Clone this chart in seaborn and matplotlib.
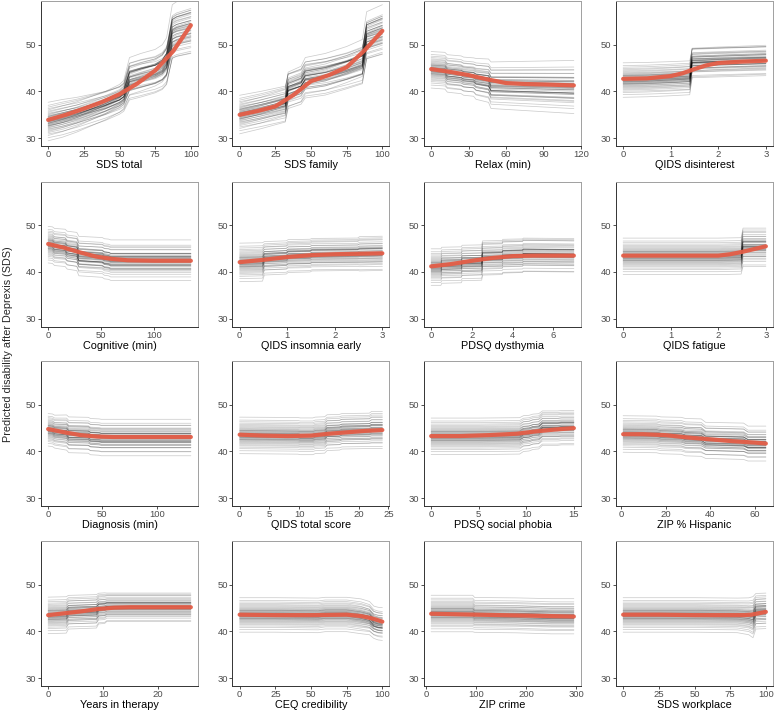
import numpy as np
import pandas as pd
import matplotlib
matplotlib.use("Agg")
import matplotlib.pyplot as plt
import seaborn as sns

# per-person shift (in panel spread units) and how strongly each person follows the profile
offsets = [-2.15, -1.8, -1.55, -1.38, -1.22, -1.1, -0.98, -0.88, -0.79, -0.7, -0.62, -0.55,
           -0.48, -0.41, -0.35, -0.29, -0.23, -0.17, -0.12, -0.07, -0.02, 0.03, 0.08, 0.13,
           0.18, 0.24, 0.3, 0.36, 0.42, 0.48, 0.55, 0.62, 0.7, 0.78, 0.87, 0.97, 1.08, 1.2,
           1.33, 1.48, 1.65, 1.85, 2.2, -0.45, 0.05, -0.2, 0.25, 0.6]
gains = [1.1, 0.9, 1.2, 0.85, 1.0, 1.15, 0.95, 1.05, 0.8, 1.1, 0.9, 1.25, 1.0, 0.85, 1.15, 0.95,
         1.05, 1.2, 0.9, 1.0, 1.1, 0.8, 1.05, 0.95, 1.15, 0.9, 1.0, 1.2, 0.85, 1.1, 0.95, 1.05,
         0.9, 1.15, 1.0, 0.8, 1.1, 0.95, 1.25, 0.9, 1.05, 1.0, 0.85, 1.1, 0.95, 1.2, 0.9, 1.05]

# SDS total
sds_total_x = [0, 10, 20, 30, 40, 50, 53, 57, 65, 75, 80, 83, 87, 90, 100]
sds_total_ice = [33.5, 34.2, 35.0, 36.0, 37.0, 38.3, 39.0, 42.5, 43.2, 44.0, 44.8, 46.0, 52.0, 52.5, 53.3]
sds_total_sd = [1.9, 1.9, 1.8, 1.7, 1.6, 1.5, 1.5, 1.9, 1.9, 1.8, 1.8, 1.8, 1.5, 1.5, 1.5]
sds_total_rx = [0, 12.5, 25, 37.5, 50, 62.5, 75, 87.5, 100]
sds_total_ry = [33.9, 35.0, 36.3, 37.7, 39.4, 41.7, 44.5, 48.6, 54.2]

# SDS family
sds_family_x = [0, 15, 32, 34, 43, 46, 60, 75, 86, 89, 100]
sds_family_ice = [35.0, 36.0, 37.3, 40.3, 41.3, 42.8, 43.5, 44.8, 46.0, 51.3, 52.5]
sds_family_sd = [1.9, 1.9, 1.9, 1.9, 1.9, 1.9, 1.9, 1.8, 1.8, 1.3, 1.3]
sds_family_rx = [0, 12.5, 25, 37.5, 50, 62.5, 75, 87.5, 100]
sds_family_ry = [35.0, 35.8, 36.8, 39.2, 42.2, 43.5, 45.2, 48.8, 53.0]

# Relax (min)
relax_x = [0, 11, 13, 24, 26, 34, 36, 46, 48, 114.4]
relax_ice = [44.6, 44.4, 43.8, 43.5, 43.2, 43.0, 42.6, 42.2, 41.2, 40.8]
relax_sd = [1.8, 1.8, 1.8, 1.8, 1.8, 1.8, 1.9, 2.0, 2.1, 2.4]
relax_rx = [0, 15, 30, 45, 60, 75, 90, 114.4]
relax_ry = [44.8, 44.2, 43.5, 42.6, 41.8, 41.6, 41.5, 41.3]

# QIDS disinterest
disint_x = [0, 0.5, 1.0, 1.4, 1.45, 2.0, 3.0]
disint_ice = [42.4, 42.5, 42.7, 42.9, 46.2, 46.4, 46.7]
disint_sd = [1.7, 1.7, 1.7, 1.7, 1.6, 1.6, 1.6]
disint_rx = [0, 0.5, 1.0, 1.25, 1.5, 1.75, 2.0, 2.5, 3.0]
disint_ry = [42.7, 42.8, 43.3, 43.9, 44.8, 45.6, 46.1, 46.4, 46.6]

# Cognitive (min)
cogn_x = [0, 4, 6, 16, 18, 27, 29, 51, 53, 57, 59, 134.5]
cogn_ice = [45.8, 45.7, 45.3, 45.1, 44.6, 44.3, 43.3, 43.0, 42.7, 42.6, 42.4, 42.4]
cogn_sd = [1.8, 1.8, 1.8, 1.8, 1.8, 1.8, 1.8, 1.8, 1.8, 1.8, 1.8, 1.8]
cogn_rx = [0, 15, 30, 45, 60, 75, 100, 134.5]
cogn_ry = [46.0, 45.2, 44.2, 43.3, 42.8, 42.5, 42.4, 42.4]

# QIDS insomnia early
insom_x = [0, 0.48, 0.52, 0.98, 1.02, 1.48, 1.52, 2.48, 2.52, 3]
insom_ice = [42.0, 42.1, 42.9, 43.1, 43.4, 43.5, 43.7, 43.8, 43.9, 44.0]
insom_sd = [1.9, 1.9, 1.7, 1.7, 1.7, 1.7, 1.7, 1.7, 1.8, 1.8]
insom_rx = [0, 0.5, 1.0, 1.5, 2.0, 2.5, 3.0]
insom_ry = [42.1, 42.6, 43.2, 43.6, 43.8, 43.9, 44.0]

# PDSQ dysthymia
dysth_x = [0, 0.48, 0.52, 1.48, 1.52, 2.48, 2.52, 3.48, 3.52, 4.48, 4.52, 7]
dysth_ice = [41.0, 41.0, 41.4, 41.5, 41.9, 42.0, 43.0, 43.1, 43.4, 43.5, 43.7, 43.6]
dysth_sd = [1.8, 1.8, 1.8, 1.8, 1.8, 1.8, 1.8, 1.8, 1.8, 1.8, 1.8, 1.8]
dysth_rx = [0, 1, 2, 3, 4, 5, 6, 7]
dysth_ry = [41.2, 41.7, 42.4, 43.0, 43.4, 43.5, 43.5, 43.5]

# QIDS fatigue
fatig_x = [0, 1, 2, 2.48, 2.52, 3]
fatig_ice = [43.3, 43.3, 43.3, 43.4, 45.3, 45.3]
fatig_sd = [1.8, 1.8, 1.8, 1.8, 2.0, 2.0]
fatig_rx = [0, 1, 2, 2.25, 2.5, 2.75, 3]
fatig_ry = [43.5, 43.5, 43.5, 43.8, 44.3, 44.9, 45.5]

# Diagnosis (min)
diag_x = [0, 4, 6, 17, 19, 37, 39, 47, 49, 131.5]
diag_ice = [44.6, 44.5, 44.2, 44.0, 43.5, 43.4, 43.1, 43.0, 42.9, 42.9]
diag_sd = [1.6, 1.6, 1.6, 1.7, 1.7, 1.7, 1.7, 1.7, 1.7, 1.7]
diag_rx = [0, 15, 30, 45, 60, 131.5]
diag_ry = [44.8, 44.1, 43.5, 43.2, 43.1, 43.1]

# QIDS total score
qtot_x = [0, 9.8, 10.2, 12.3, 12.7, 14.3, 14.7, 16.8, 17.2, 21.8, 22.2, 24]
qtot_ice = [43.4, 43.3, 43.2, 43.2, 43.4, 43.5, 44.0, 44.1, 44.3, 44.4, 44.6, 44.6]
qtot_sd = [1.8, 1.8, 1.8, 1.8, 1.8, 1.8, 1.8, 1.8, 1.8, 1.8, 1.9, 1.9]
qtot_rx = [0, 4, 8, 12, 15, 18, 21, 24]
qtot_ry = [43.6, 43.4, 43.3, 43.4, 43.8, 44.1, 44.4, 44.6]

# PDSQ social phobia
socph_x = [0, 5, 9.3, 9.7, 10.3, 10.7, 11.3, 11.7, 13.3, 13.7, 15]
socph_ice = [43.2, 43.2, 43.3, 43.8, 43.9, 44.2, 44.3, 45.0, 45.0, 45.1, 45.1]
socph_sd = [1.8, 1.8, 1.8, 1.8, 1.8, 1.8, 1.8, 1.8, 1.8, 1.8, 1.8]
socph_rx = [0, 3, 6, 9, 11, 13, 15]
socph_ry = [43.3, 43.3, 43.5, 43.8, 44.3, 44.7, 45.0]

# ZIP % Hispanic
hisp_x = [1, 16, 18, 27, 29, 36, 38, 55, 57, 65]
hisp_ice = [43.7, 43.6, 43.4, 43.3, 43.0, 42.9, 42.3, 42.1, 41.6, 41.6]
hisp_sd = [1.8, 1.8, 1.8, 1.8, 1.8, 1.8, 1.7, 1.7, 1.6, 1.6]
hisp_rx = [1, 10, 20, 30, 40, 50, 60, 65]
hisp_ry = [43.7, 43.7, 43.5, 43.0, 42.6, 42.2, 41.9, 41.7]

# Years in therapy
years_x = [0, 3.3, 3.7, 8.8, 9.2, 10.3, 10.7, 26]
years_ice = [43.4, 43.5, 44.1, 44.3, 44.9, 45.0, 45.2, 45.2]
years_sd = [1.8, 1.8, 1.7, 1.7, 1.6, 1.6, 1.5, 1.5]
years_rx = [0, 3, 6, 9, 12, 15, 20, 26]
years_ry = [43.5, 43.9, 44.3, 44.8, 45.1, 45.2, 45.2, 45.2]

# CEQ credibility
ceq_x = [0, 25, 55, 60, 75, 85, 91, 94, 97, 100]
ceq_ice = [43.5, 43.5, 43.4, 43.6, 43.6, 43.2, 42.8, 41.9, 41.6, 41.5]
ceq_sd = [1.7, 1.7, 1.7, 1.7, 1.7, 1.7, 1.6, 1.5, 1.5, 1.5]
ceq_rx = [0, 25, 50, 75, 85, 90, 95, 100]
ceq_ry = [43.6, 43.5, 43.5, 43.6, 43.3, 43.0, 42.6, 42.1]

# ZIP crime
crime_x = [10, 93, 97, 180, 250, 295]
crime_ice = [43.8, 43.8, 43.5, 43.4, 43.2, 43.2]
crime_sd = [1.8, 1.8, 1.7, 1.7, 1.7, 1.7]
crime_rx = [10, 100, 200, 295]
crime_ry = [43.8, 43.6, 43.4, 43.2]

# SDS workplace
work_x = [0, 50, 80, 88, 91, 93, 100]
work_ice = [43.5, 43.5, 43.4, 43.2, 43.0, 44.3, 44.4]
work_sd = [1.7, 1.7, 1.7, 1.8, 2.0, 1.8, 1.8]
work_rx = [0, 25, 50, 75, 85, 90, 95, 100]
work_ry = [43.6, 43.6, 43.5, 43.5, 43.5, 43.6, 43.9, 44.2]

panels = [
    ("SDS total", sds_total_x, sds_total_ice, sds_total_sd, sds_total_rx, sds_total_ry, [0, 25, 50, 75, 100]),
    ("SDS family", sds_family_x, sds_family_ice, sds_family_sd, sds_family_rx, sds_family_ry, [0, 25, 50, 75, 100]),
    ("Relax (min)", relax_x, relax_ice, relax_sd, relax_rx, relax_ry, [0, 30, 60, 90, 120]),
    ("QIDS disinterest", disint_x, disint_ice, disint_sd, disint_rx, disint_ry, [0, 1, 2, 3]),
    ("Cognitive (min)", cogn_x, cogn_ice, cogn_sd, cogn_rx, cogn_ry, [0, 50, 100]),
    ("QIDS insomnia early", insom_x, insom_ice, insom_sd, insom_rx, insom_ry, [0, 1, 2, 3]),
    ("PDSQ dysthymia", dysth_x, dysth_ice, dysth_sd, dysth_rx, dysth_ry, [0, 2, 4, 6]),
    ("QIDS fatigue", fatig_x, fatig_ice, fatig_sd, fatig_rx, fatig_ry, [0, 1, 2, 3]),
    ("Diagnosis (min)", diag_x, diag_ice, diag_sd, diag_rx, diag_ry, [0, 50, 100]),
    ("QIDS total score", qtot_x, qtot_ice, qtot_sd, qtot_rx, qtot_ry, [0, 5, 10, 15, 20, 25]),
    ("PDSQ social phobia", socph_x, socph_ice, socph_sd, socph_rx, socph_ry, [0, 5, 10, 15]),
    ("ZIP % Hispanic", hisp_x, hisp_ice, hisp_sd, hisp_rx, hisp_ry, [0, 20, 40, 60]),
    ("Years in therapy", years_x, years_ice, years_sd, years_rx, years_ry, [0, 10, 20]),
    ("CEQ credibility", ceq_x, ceq_ice, ceq_sd, ceq_rx, ceq_ry, [0, 25, 50, 75, 100]),
    ("ZIP crime", crime_x, crime_ice, crime_sd, crime_rx, crime_ry, [0, 100, 200, 300]),
    ("SDS workplace", work_x, work_ice, work_sd, work_rx, work_ry, [0, 25, 50, 75, 100]),
]

sns.set_style("white")
plt.rcParams["font.family"] = ["Liberation Sans", "DejaVu Sans"]

W, H = 774, 712
fig = plt.figure(figsize=(W / 100, H / 100), dpi=100)
col_left = [41, 232.5, 424, 616]
row_top = [1, 181.5, 361, 541]
aw, ah = 157, 145

for i, (label, xs, ice, sd, rx, ry, ticks) in enumerate(panels):
    r, c = divmod(i, 4)
    ax = fig.add_axes([col_left[c] / W, 1 - (row_top[r] + ah) / H, aw / W, ah / H])

    xs = np.array(xs, dtype=float)
    ice = np.array(ice, dtype=float)
    sd = np.array(sd, dtype=float)
    rows = []
    for k, (o, g) in enumerate(zip(offsets, gains)):
        yk = ice + o * sd + (g - 1) * (ice - ice[0])
        rows.append(pd.DataFrame({"x": xs, "y": yk, "id": k}))
    df = pd.concat(rows, ignore_index=True)

    sns.lineplot(data=df, x="x", y="y", units="id", estimator=None, sort=False,
                 color="black", alpha=0.2, lw=0.55, ax=ax)
    sns.lineplot(x=rx, y=ry, color="#E35D47", lw=3.0, alpha=0.95, sort=False, ax=ax)

    span = xs.max() - xs.min()
    ax.set_xlim(xs.min() - 0.05 * span, xs.max() + 0.05 * span)
    ax.set_ylim(28.3, 59.4)
    ax.set_xticks(ticks)
    ax.set_yticks([30, 40, 50])
    ax.set_xlabel(label, fontsize=7.8, color="black", labelpad=0.5)
    ax.set_ylabel("")
    ax.tick_params(axis="both", labelsize=6.8, labelcolor="#4d4d4d", length=2.2,
                   width=0.6, color="#333333", pad=1.0, bottom=True, left=True)
    for side in ["left", "bottom"]:
        ax.spines[side].set_color("#333333")
        ax.spines[side].set_linewidth(0.7)
    for side in ["top", "right"]:
        ax.spines[side].set_color("#a0a0a0")
        ax.spines[side].set_linewidth(0.7)

fig.text(8 / W, 1 - 344 / H, "Predicted disability after Deprexis (SDS)", rotation=90,
         ha="center", va="center", fontsize=7.8)

fig.savefig("out.png", dpi=100)
